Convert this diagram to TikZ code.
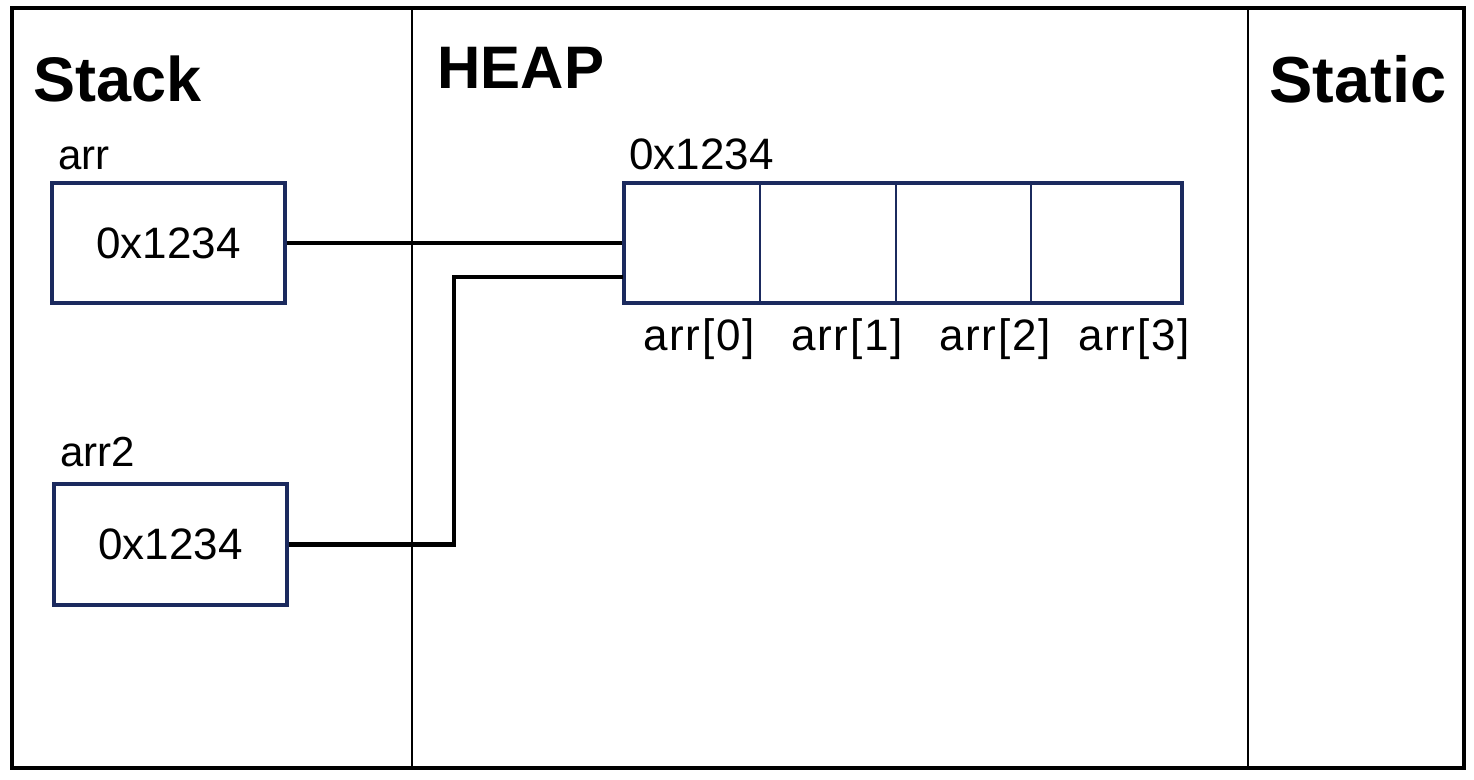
\documentclass[tikz,border=0pt]{standalone}
\usepackage{fontspec}
\setmainfont{Liberation Sans}
\definecolor{navy}{HTML}{1B2A5E}
\begin{document}
\begin{tikzpicture}[x=0.5pt,y=-0.5pt,
  membox/.style={draw=navy,line width=2pt,rectangle,inner sep=0pt,font=\fontsize{22}{26}\selectfont},
  title/.style={font=\fontsize{31.5}{36}\selectfont\bfseries,anchor=base west,inner sep=0pt},
  lbl/.style={font=\fontsize{21}{25}\selectfont,anchor=base west,inner sep=0pt},
  idx/.style={font=\fontsize{22}{26}\selectfont\addfontfeatures{LetterSpace=4},anchor=base,inner sep=0pt},
  link/.style={draw=black,line width=2.2pt,line join=miter}]
\useasboundingbox (0,0) rectangle (1474,780);
% outer frame and dividers
\draw[line width=1.8pt] (12,8) rectangle (1464,768);
\draw[line width=0.8pt] (412,8) -- (412,768);
\draw[line width=0.8pt] (1248,8) -- (1248,768);
% titles
\node[title] (tstack) at (33,102) {Stack};
\node[title,font=\fontsize{30}{36}\selectfont\bfseries] (theap) at (437,89) {HEAP};
\node[title,font=\fontsize{32.5}{36}\selectfont\bfseries] (tstatic) at (1269,103) {Static};
% stack variables
\node[lbl] (larr) at (58,170) {arr};
\node[membox,minimum width=116.5pt,minimum height=60pt] (a1) at (168.5,243) {0x1234};
\node[lbl] (larr2) at (60,467) {arr2};
\node[membox,minimum width=116.5pt,minimum height=60.5pt] (a2) at (170.5,544.5) {0x1234};
% heap array
\node[lbl,font=\fontsize{22}{26}\selectfont] (laddr) at (629,170) {0x1234};
\node[membox,minimum width=279pt,minimum height=60pt] (arrbox) at (903,243) {};
\draw[navy,line width=1pt] (760,183) -- (760,303);
\draw[navy,line width=1pt] (896,183) -- (896,303);
\draw[navy,line width=1pt] (1031,183) -- (1031,303);
\node[idx] (i0) at (699,351) {arr[0]};
\node[idx] (i1) at (847,351) {arr[1]};
\node[idx] (i2) at (995,351) {arr[2]};
\node[idx] (i3) at (1134,351) {arr[3]};
% connectors
\coordinate (in2) at (623,277);
\draw[link] (a1.east) -- (arrbox.west);
\draw[link] (a2.east) -- (454,544.5) -- (454,277) -- (in2);
\end{tikzpicture}
\end{document}
